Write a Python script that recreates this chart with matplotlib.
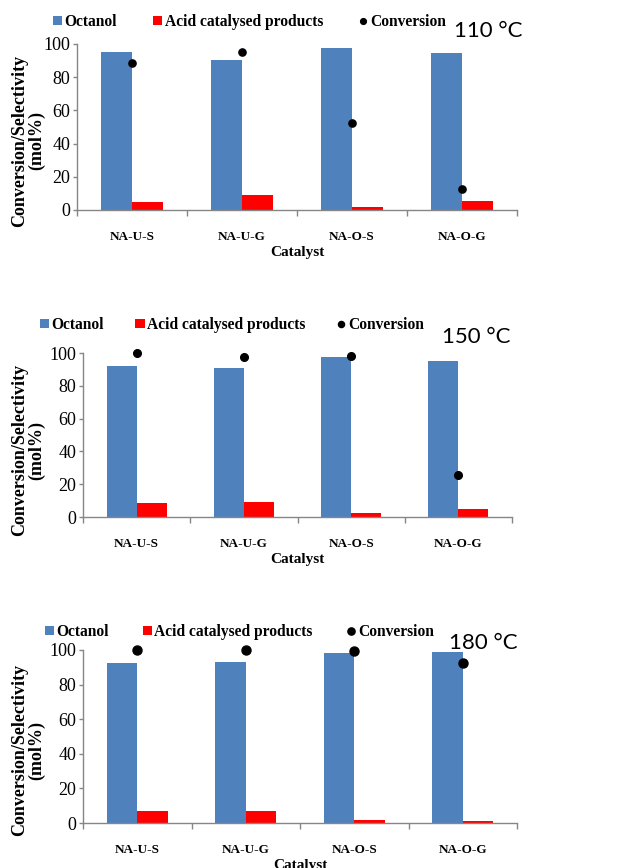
import numpy as np
import matplotlib
matplotlib.use("Agg")
import matplotlib.pyplot as plt
from matplotlib.patches import Patch
from matplotlib.lines import Line2D

# catalysts and measured values (mol%) at each reaction temperature
catalysts = ["NA-U-S", "NA-U-G", "NA-O-S", "NA-O-G"]

octanol_110 = [95.4, 90.6, 97.8, 94.6]
acid_110 = [4.8, 9.2, 2.0, 5.6]
conv_110 = [88.4, 95.0, 52.5, 12.6]

octanol_150 = [91.9, 91.1, 97.6, 94.9]
acid_150 = [8.3, 9.1, 2.6, 5.1]
conv_150 = [99.8, 97.4, 98.2, 25.8]

octanol_180 = [92.7, 93.1, 98.1, 98.8]
acid_180 = [7.1, 6.7, 1.7, 1.0]
conv_180 = [100.0, 100.0, 99.4, 92.7]

yticks = [0, 20, 40, 60, 80, 100]

W, H = 629, 868
BLUE = "#4F81BD"
RED = "#FF0000"
GREY = "#868686"
SERIF = "Liberation Serif"

plt.rcParams["font.family"] = SERIF

fig = plt.figure(figsize=(W / 100, H / 100), dpi=100)


def px(x, y):
    # pixel position (from top-left) -> figure fraction
    return x / W, 1 - y / H


def draw_panel(box, octanol, acid, conv, temp, leg_xy, colsp, temp_xy, ylab_xy, dot=5.0):
    left, top, right, bottom = box
    ax = fig.add_axes([left / W, 1 - bottom / H, (right - left) / W, (bottom - top) / H])
    x = np.arange(len(catalysts))
    w = 0.28
    ax.bar(x - w / 2, octanol, w, color=BLUE, label="Octanol")
    ax.bar(x + w / 2, acid, w, color=RED, label="Acid catalysed products")
    ax.plot(x, conv, "o", color="black", ms=dot, clip_on=False, zorder=5)

    ax.set_xlim(-0.5, len(catalysts) - 0.5)
    ax.set_ylim(0, 100)
    ax.set_yticks(yticks)
    ax.tick_params(axis="y", length=3, width=1, color=GREY, pad=2, labelsize=13)
    ax.set_xticks(x)
    ax.set_xticklabels(catalysts, fontsize=9.5, fontweight="bold")
    ax.tick_params(axis="x", which="major", length=0, pad=15)
    ax.set_xticks(np.arange(len(catalysts) + 1) - 0.5, minor=True)
    ax.tick_params(axis="x", which="minor", length=4, width=1, color=GREY)
    for s in ("top", "right"):
        ax.spines[s].set_visible(False)
    for s in ("left", "bottom"):
        ax.spines[s].set_color(GREY)
        ax.spines[s].set_linewidth(1)
    ax.set_xlabel("Catalyst", fontsize=11, fontweight="bold", labelpad=2)

    fx, fy = px(*ylab_xy)
    fig.text(fx, fy, "Conversion/Selectivity\n(mol%)", rotation=90, ha="center",
             va="center", multialignment="center", fontsize=13, fontweight="bold",
             linespacing=1.0)

    handles = [
        Patch(facecolor=BLUE, label="Octanol"),
        Patch(facecolor=RED, label="Acid catalysed products"),
        Line2D([], [], marker="o", ls="", color="black", ms=dot * 0.8, label="Conversion"),
    ]
    lx, ly = px(*leg_xy)
    ax.legend(handles=handles, ncol=3, loc="center left", bbox_to_anchor=(lx, ly),
              bbox_transform=fig.transFigure, frameon=False, borderpad=0,
              borderaxespad=0, handlelength=0.6, handleheight=0.6,
              handletextpad=0.15, columnspacing=colsp,
              prop={"family": SERIF, "weight": "bold", "size": 11.2})

    tx, ty = px(*temp_xy)
    fig.text(tx, ty, temp, ha="center", va="center", fontsize=16, family="Lato")
    return ax


draw_panel((77, 44, 517, 210), octanol_110, acid_110, conv_110, "110 °C",
           (53, 22), 2.3, (488, 31), (28, 141), dot=5.2)
draw_panel((83, 353, 512, 517), octanol_150, acid_150, conv_150, "150 °C",
           (40, 325), 2.0, (476, 337), (28, 450), dot=5.5)
draw_panel((83, 650, 517, 823), octanol_180, acid_180, conv_180, "180 °C",
           (45, 632), 2.15, (483, 643), (28, 750), dot=6.5)

fig.savefig("out.png", dpi=100)
